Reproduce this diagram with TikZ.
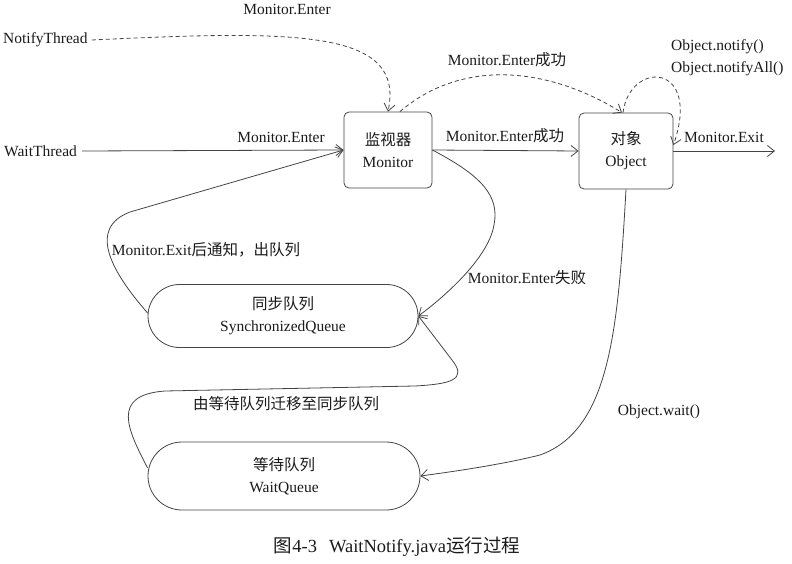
\documentclass[tikz,border=0pt]{standalone}
\usepackage{fontspec}
\setmainfont{Liberation Serif}
\newfontfamily\cjk{Noto Sans CJK SC}
\usetikzlibrary{arrows.meta,shapes.misc}
\definecolor{ln}{HTML}{444444}
\definecolor{tx}{HTML}{1A1A1A}
\tikzset{
  every node/.style={text=tx,font=\fontsize{15.5}{22}\selectfont,inner sep=0pt},
  conn/.style={draw=ln,line width=0.8pt,-{Straight Barb[length=7pt,width=11pt]}},
  dconn/.style={conn,dash pattern=on 4pt off 3pt},
  box/.style={draw=ln,line width=0.8pt,rounded corners=5pt,align=center},
  queue/.style={draw=ln,line width=0.8pt,rounded rectangle,align=center},
  lbl/.style={align=center},
}
\begin{document}
\begin{tikzpicture}[x=1pt,y=-1pt]
\useasboundingbox (0,0) rectangle (792,564);
% boxes
\node[box,minimum width=88pt,minimum height=76pt] (mon) at (388,150) {{\cjk 监视器}\\Monitor};
\node[box,minimum width=94pt,minimum height=76pt] (obj) at (626,151) {{\cjk 对象}\\Object};
\node[queue,minimum width=270pt,minimum height=63pt] (sq) at (283,316) {{\cjk 同步队列}\\SynchronizedQueue};
\node[queue,minimum width=272pt,minimum height=68pt] (wq) at (284,476) {{\cjk 等待队列}\\WaitQueue};
% threads
\node[anchor=west] (wt) at (4,151) {WaitThread};
\node[anchor=west] (nt) at (3,40) {NotifyThread};
\coordinate (exitend) at (775,151);
% connectors
\draw[conn] ([xshift=5pt]wt.east) -- (mon.west);
\draw[dconn] ([xshift=4pt]nt.east) .. controls (300,30) and (405,30) .. (mon.north);
\draw[dconn] ([xshift=12pt]mon.north) .. controls (460,60) and (545,65) .. ([xshift=-4pt]obj.north);
\draw[conn] (mon.east) -- (obj.west);
\draw[dconn] ([xshift=-3pt]obj.north) .. controls (630,60) and (702,62) .. ([yshift=6pt]obj.east);
\draw[conn] (obj.east) -- (exitend);
\draw[conn] (mon.east) .. controls (480,175) and (500,195) .. (494,225) .. controls (488,260) and (440,300) .. (sq.east);
\draw[conn] ([yshift=3pt]sq.west) .. controls (110,270) and (88,228) .. (130,212) -- (mon.west);
\draw[conn] ([yshift=8pt]wq.west) .. controls (128,430) and (110,395) .. (165,391) -- (415,386) .. controls (450,384) and (468,380) .. (452,360) -- (sq.east);
\draw[conn] (obj.south) .. controls (618,330) and (610,430) .. (540,455) .. controls (500,465) and (450,472) .. (wq.east);
% labels
\node[lbl] (l1) at (287,9) {Monitor.Enter};
\node[lbl] (l2) at (281,137) {Monitor.Enter};
\node[lbl] (l3) at (507,60) {Monitor.Enter{\cjk 成功}};
\node[lbl] (l4) at (505,136) {Monitor.Enter{\cjk 成功}};
\node[anchor=west,align=left] (l5) at (671,58) {Object.notify()\\Object.notifyAll()};
\node[lbl] (l6) at (724,137) {Monitor.Exit};
\node[lbl] (l7) at (206,250) {Monitor.Exit{\cjk 后通知，出队列}};
\node[lbl] (l8) at (527,278) {Monitor.Enter{\cjk 失败}};
\node[lbl] (l9) at (286,404) {\cjk 由等待队列迁移至同步队列};
\node[lbl] (l10) at (659,412) {Object.wait()};
\node[lbl,font=\fontsize{18.5}{22}\selectfont] (cap) at (397,547) {{\cjk 图}4-3\hspace{12pt}WaitNotify.java{\cjk 运行过程}};
\end{tikzpicture}
\end{document}
